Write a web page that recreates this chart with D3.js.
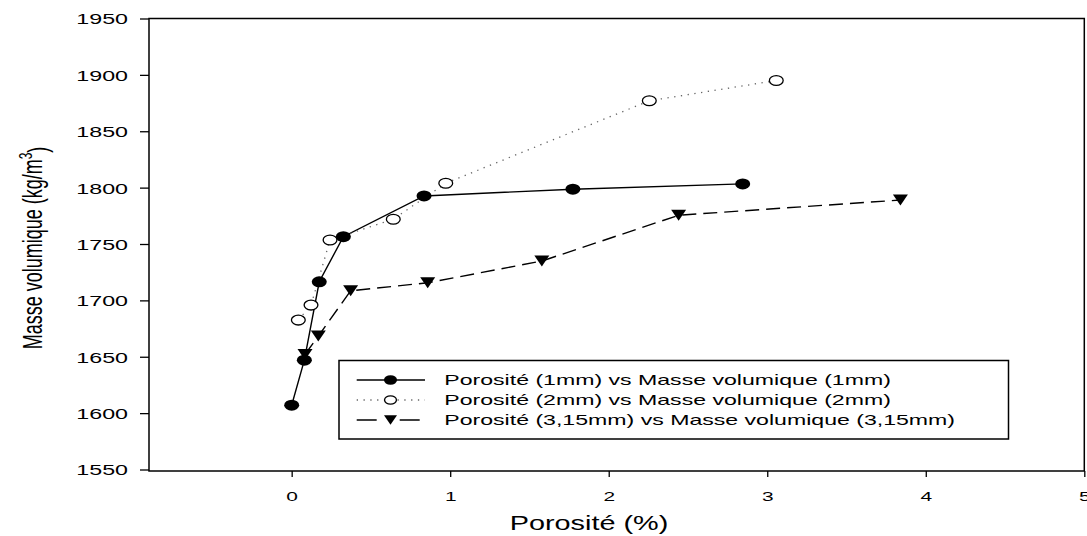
<!DOCTYPE html>
<html>
<head>
<meta charset="utf-8">
<script src="https://cdn.jsdelivr.net/npm/d3@7"></script>
<style>
  body { margin: 0; background: #fff; }
  text { font-family: "Liberation Sans", Arial, sans-serif; fill: #000; }
</style>
</head>
<body>
<div id="graph"></div>
<script>
// Porosité (%) vs masse volumique (kg/m3), three grain sizes
const poro1 = [0, 0.08, 0.174, 0.326, 0.835, 1.774, 2.845];
const masse1 = [1607, 1647, 1716.5, 1756.5, 1792.6, 1798.6, 1803.3];
const poro2 = [0.042, 0.122, 0.242, 0.641, 0.972, 2.256, 3.057];
const masse2 = [1682.5, 1695.8, 1753.5, 1772, 1803.9, 1877, 1895];
const poro3 = [0.084, 0.168, 0.372, 0.858, 1.578, 2.441, 3.84];
const masse3 = [1652, 1668.3, 1708.5, 1715.6, 1734.9, 1775.5, 1789];
const seriesNames = [
  "Porosité (1mm) vs Masse volumique (1mm)",
  "Porosité (2mm) vs Masse volumique (2mm)",
  "Porosité (3,15mm) vs Masse volumique (3,15mm)"
];
const xTicks = [0, 1, 2, 3, 4, 5];
const yTicks = [1550, 1600, 1650, 1700, 1750, 1800, 1850, 1900, 1950];

const W = 1087, H = 536;
const SX = 1.55; // the original picture is stretched horizontally

const frame = { left: 149, right: 1084.3, top: 18.5, bottom: 471 };

const x = d3.scaleLinear().domain([-0.9, 5]).range([frame.left, frame.right]);
const y = d3.scaleLinear().domain([1550, 1950]).range([469.5, 18.5]);

const svg = d3.select("#graph").append("svg")
  .attr("width", W).attr("height", H);

const styles = [
  { marker: "filled", dash: null, legendDash: null, color: "#000", width: 1.4 },
  { marker: "open", dash: "1.3,5.5", legendDash: "1.3,5.5", color: "#666", width: 1.3 },
  { marker: "triangle", dash: "14,7", legendDash: "20,23", color: "#000", width: 1.4 }
];

const series = [
  d3.zip(poro1, masse1),
  d3.zip(poro2, masse2),
  d3.zip(poro3, masse3)
];

function drawMarker(g, kind, cx, cy, k) {
  const rx = 7.5 * k, ry = 5.5 * k;
  if (kind === "triangle") {
    const w = 15 * k, h = 11 * k;
    g.append("path")
      .attr("d", `M${cx - w / 2},${cy - h / 2}L${cx + w / 2},${cy - h / 2}L${cx},${cy + h / 2}Z`)
      .attr("fill", "#000");
  } else {
    g.append("ellipse")
      .attr("cx", cx).attr("cy", cy)
      .attr("rx", kind === "open" ? rx - 0.6 : rx)
      .attr("ry", kind === "open" ? ry - 0.6 : ry)
      .attr("fill", kind === "open" ? "#fff" : "#000")
      .attr("stroke", "#000")
      .attr("stroke-width", kind === "open" ? 1.3 : 0);
  }
}

// frame
svg.append("rect")
  .attr("x", frame.left).attr("y", frame.top)
  .attr("width", frame.right - frame.left)
  .attr("height", frame.bottom - frame.top)
  .attr("fill", "none").attr("stroke", "#000").attr("stroke-width", 1.5);

// y axis
const yAxis = svg.append("g")
  .attr("transform", `translate(${frame.left},0)`)
  .call(d3.axisLeft(y).tickValues(yTicks).tickSize(9).tickSizeOuter(0).tickFormat(d3.format("d")));
yAxis.select(".domain").remove();
yAxis.selectAll(".tick line").attr("stroke", "#000").attr("stroke-width", 1.3);
yAxis.selectAll(".tick text")
  .attr("x", -21 / SX).attr("dy", "0.36em")
  .attr("transform", `scale(${SX},1)`)
  .style("font-size", "15px")
  .style("font-family", "'Liberation Sans', Arial, sans-serif")
  .attr("fill", "#000");

// x axis
const xAxis = svg.append("g")
  .attr("transform", `translate(0,${frame.bottom})`)
  .call(d3.axisBottom(x).tickValues(xTicks).tickSize(6).tickSizeOuter(0).tickFormat(d3.format("d")));
xAxis.select(".domain").remove();
xAxis.selectAll(".tick line").attr("stroke", "#000").attr("stroke-width", 1.3);
xAxis.selectAll(".tick text")
  .attr("y", 29.7).attr("dy", 0)
  .attr("transform", `scale(${SX},1)`)
  .style("font-size", "13.5px")
  .style("font-family", "'Liberation Sans', Arial, sans-serif")
  .attr("fill", "#000");

// axis titles
svg.append("text")
  .attr("transform", `translate(589,530) scale(1.48,1)`)
  .attr("text-anchor", "middle")
  .style("font-size", "19.5px")
  .text("Porosité (%)");

const yTitle = svg.append("text")
  .attr("transform", `translate(42,248) scale(${SX},1) rotate(-90)`)
  .attr("text-anchor", "middle")
  .style("font-size", "18px");
yTitle.append("tspan").text("Masse volumique (kg/m");
yTitle.append("tspan").attr("dy", "-0.55em").style("font-size", "12px").text("3");
yTitle.append("tspan").attr("dy", "0.55em").text(")");

// series
const line = d3.line().x(d => x(d[0])).y(d => y(d[1]));
series.forEach((data, i) => {
  const st = styles[i];
  svg.append("path")
    .datum(data)
    .attr("d", line)
    .attr("fill", "none")
    .attr("stroke", st.color)
    .attr("stroke-width", st.width)
    .attr("stroke-dasharray", st.dash);
});
series.forEach((data, i) => {
  const g = svg.append("g");
  data.forEach(d => drawMarker(g, styles[i].marker, x(d[0]), y(d[1]), 1));
});

// legend
const legend = svg.append("g");
legend.append("rect")
  .attr("x", 339).attr("y", 360.5)
  .attr("width", 1008.5 - 339).attr("height", 439 - 360.5)
  .attr("fill", "#fff").attr("stroke", "#000").attr("stroke-width", 1.5);

seriesNames.forEach((name, i) => {
  const st = styles[i];
  const cy = 380 + i * 20;
  legend.append("line")
    .attr("x1", 356.7).attr("x2", 425)
    .attr("y1", cy).attr("y2", cy)
    .attr("stroke", st.color)
    .attr("stroke-width", st.width)
    .attr("stroke-dasharray", st.legendDash);
  drawMarker(legend, st.marker, 390.5, cy, 0.87);
  legend.append("text")
    .attr("transform", `translate(444.3,${cy + 5.2}) scale(1.54,1)`)
    .style("font-size", "15px")
    .text(name);
});
</script>
</body>
</html>
